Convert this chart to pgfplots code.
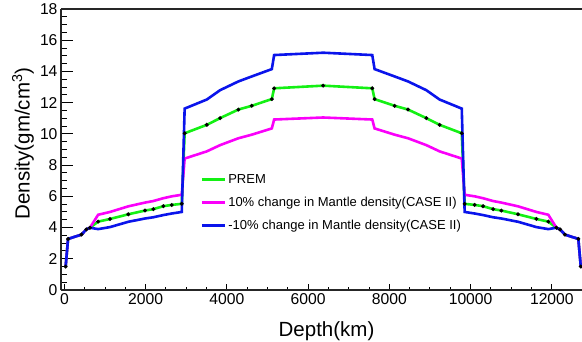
\documentclass[border=0pt]{standalone}
\usepackage{fontspec}
\setmainfont{Liberation Sans}
\usepackage{pgfplots}
\usepackage{pgfplotstable}
\pgfplotsset{compat=1.18}
\definecolor{cgreen}{RGB}{20,240,20}
\definecolor{cmag}{RGB}{250,0,250}
\definecolor{cblue}{RGB}{10,20,235}
\pgfplotstableread{
d g m b
30 1.50 1.50 1.50
90 3.27 3.27 3.27
420 3.55 3.55 3.55
540 3.88 3.88 3.88
630 3.99 3.99 3.99
830 4.38 4.82 3.90
1123 4.55 5.00 4.03
1574 4.85 5.36 4.37
1985 5.09 5.60 4.58
2190 5.18 5.70 4.66
2436 5.37 5.88 4.80
2642 5.45 6.00 4.90
2889 5.52 6.10 5.00
2960 10.04 8.42 11.62
3505 10.58 8.88 12.20
3833 11.01 9.28 12.80
4283 11.56 9.72 13.36
4613 11.80 9.95 13.68
5106 12.23 10.35 14.15
5163 12.92 10.92 15.05
6371 13.09 11.05 15.20
7579 12.92 10.92 15.05
7636 12.23 10.35 14.15
8129 11.80 9.95 13.68
8459 11.56 9.72 13.36
8909 11.01 9.28 12.80
9237 10.58 8.88 12.20
9782 10.04 8.42 11.62
9853 5.52 6.10 5.00
10100 5.45 6.00 4.90
10306 5.37 5.88 4.80
10552 5.18 5.70 4.66
10757 5.09 5.60 4.58
11168 4.85 5.36 4.37
11619 4.55 5.00 4.03
11912 4.38 4.82 3.90
12112 3.99 3.99 3.99
12202 3.88 3.88 3.88
12322 3.55 3.55 3.55
12652 3.27 3.27 3.27
12712 1.50 1.50 1.50
}\prem
\begin{document}
\begin{tikzpicture}
\begin{axis}[
  name=ax,
  scale only axis,
  width=521pt, height=281pt,
  xmin=-84, xmax=12742,
  ymin=0, ymax=18,
  axis x line*=box, axis y line*=left,
  xtick pos=left, ytick pos=left,
  xtick={0,2000,...,12000},
  ytick={0,2,...,18},
  scaled x ticks=false, scaled y ticks=false,
  minor x tick num=3,
  minor y tick num=3,
  tick align=inside,
  xtick style={/pgfplots/major tick length=6.5pt,/pgfplots/minor tick length=3.5pt, line width=1pt, black},
  ytick style={/pgfplots/major tick length=12pt,/pgfplots/minor tick length=6pt, line width=1pt, black},
  axis line style={line width=1.3pt, black!85},
  /pgf/number format/assume math mode=true,
  /pgf/number format/1000 sep={},
  xticklabel style={font=\fontsize{15.7}{18}\selectfont},
  yticklabel style={font=\fontsize{15.7}{18}\selectfont},
  xlabel={Depth(km)},
  ylabel={Density(gm/cm\textsuperscript{3})},
  every axis x label/.style={at={(axis description cs:0.5,0)}, anchor=base, yshift=-46pt, xshift=5pt, font=\fontsize{20.5}{23}\selectfont},
  every axis y label/.style={at={(axis description cs:0,0.5)}, xshift=-38pt, yshift=6pt, rotate=90, anchor=center, font=\fontsize{20.5}{23}\selectfont},
  legend style={at={(axis cs:3350,7.55)}, anchor=north west, draw=none, fill=none, inner sep=0pt,
    font=\fontsize{13}{15}\selectfont, row sep=8.3pt},
  legend cell align=left,
  legend image code/.code={\draw[#1, mark=none] (0pt,0pt) -- (23pt,0pt);},
]
\addplot[cgreen, line width=2.6pt, mark=*, mark size=0.3pt, mark options={black, draw=black, fill=black}] table[x=d, y=g] {\prem};
\addlegendentry{PREM}
\addplot[cmag, line width=2.6pt] table[x=d, y=m] {\prem};
\addlegendentry{10\% change in Mantle density(CASE II)}
\addplot[cblue, line width=2.6pt] table[x=d, y=b] {\prem};
\addlegendentry{-10\% change in Mantle density(CASE II)}
\end{axis}
\pgfresetboundingbox
\useasboundingbox ([xshift=-61pt,yshift=-51pt]ax.south west) rectangle ([yshift=9pt]ax.north east);
\end{tikzpicture}
\end{document}
